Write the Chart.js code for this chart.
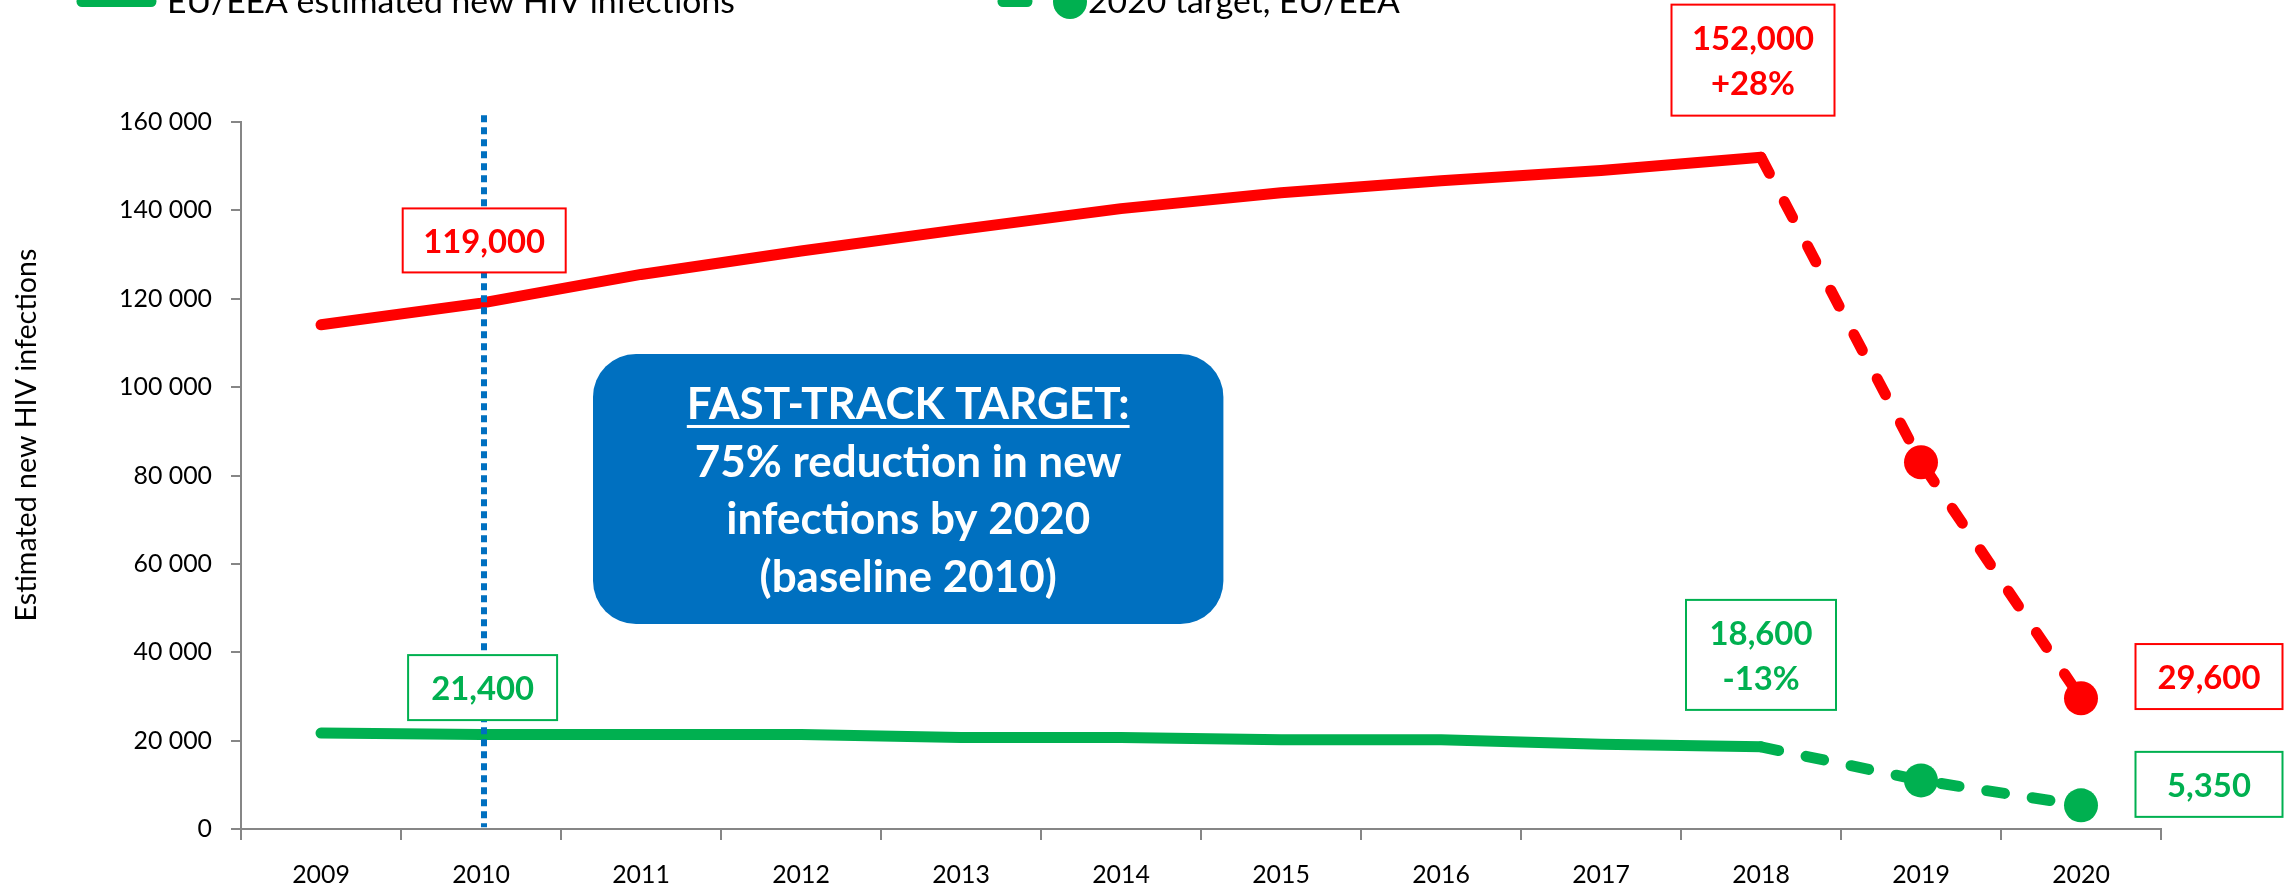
<!DOCTYPE html>
<html>
<head>
<meta charset="utf-8">
<script src="https://cdn.jsdelivr.net/npm/chart.js@4/dist/chart.umd.min.js"></script>
<style>
  html, body { margin: 0; padding: 0; background: #fff; }
  canvas { display: block; }
</style>
</head>
<body>
<canvas id="hivChart" width="2293" height="889"></canvas>
<script>
// data
var years = ['2009', '2010', '2011', '2012', '2013', '2014', '2015', '2016', '2017', '2018', '2019', '2020'];
var regionEstimated = [114100, 119000, 125500, 130800, 135700, 140400, 144000, 146700, 149000, 152000, null, null];
var regionTarget = [null, null, null, null, null, null, null, null, null, 152000, 83000, 29600];
var euEstimated = [21700, 21400, 21400, 21400, 20700, 20700, 20200, 20200, 19200, 18600, null, null];
var euTarget = [null, null, null, null, null, null, null, null, null, 18600, 11000, 5350];
var legendLabels = ['EU/EEA estimated new HIV infections', '2020 target, EU/EEA'];
var axisTitle = 'Estimated new HIV infections';
var boxLines = ['FAST-TRACK TARGET:', '75% reduction in new', 'infections by 2020', '(baseline 2010)'];

var RED = '#FF0000', GREEN = '#00B050', BLUE = '#0070C0', AXIS = '#868686';
var FONT = 'Lato';

function fitSize(text, width, weight) {
    var c = document.createElement('canvas').getContext('2d');
    c.font = weight + ' 100px ' + FONT;
    return 100 * width / c.measureText(text).width;
}

var tickSize = fitSize('160 000', 93, 'normal');
var legendSize = fitSize(legendLabels[0], 568, 'normal');
var titleSize = fitSize(axisTitle, 373, 'normal');
var calloutSize = fitSize('119,000', 122, 'bold');
var boxSize = fitSize(boxLines[1], 427, 'bold');

// callouts placed in data units (x = category index, y = value of box centre)
var callouts = [
    { lines: ['119,000'], color: RED, x: 1.02, y: 133200, w: 163, h: 64 },
    { lines: ['21,400'], color: GREEN, x: 1.01, y: 32000, w: 149, h: 65 },
    { lines: ['152,000', '+28%'], color: RED, x: 8.95, y: 174000, w: 163, h: 111 },
    { lines: ['18,600', '-13%'], color: GREEN, x: 9.0, y: 39400, w: 150, h: 110 },
    { lines: ['29,600'], color: RED, x: 11.8, y: 34500, w: 147, h: 65 },
    { lines: ['5,350'], color: GREEN, x: 11.8, y: 10100, w: 147, h: 65 }
];

var overlay = {
    id: 'overlay',
    afterDatasetsDraw: function (chart) {
        var ctx = chart.ctx, xs = chart.scales.x, ys = chart.scales.y;
        ctx.save();

        // dotted baseline marker at 2010
        var bx = xs.getPixelForValue(1) + 3;
        ctx.strokeStyle = BLUE;
        ctx.lineWidth = 6;
        ctx.setLineDash([7, 5]);
        ctx.beginPath();
        ctx.moveTo(bx, ys.getPixelForValue(161500));
        ctx.lineTo(bx, ys.getPixelForValue(400));
        ctx.stroke();
        ctx.setLineDash([]);

        // value callouts
        callouts.forEach(function (c) {
            var cx = xs.getPixelForValue(c.x), cy = ys.getPixelForValue(c.y);
            var left = cx - c.w / 2, top = cy - c.h / 2;
            ctx.fillStyle = '#fff';
            ctx.fillRect(left, top, c.w, c.h);
            ctx.strokeStyle = c.color;
            ctx.lineWidth = 2;
            ctx.strokeRect(left, top, c.w, c.h);
            ctx.fillStyle = c.color;
            ctx.font = 'bold ' + calloutSize + 'px ' + FONT;
            ctx.textAlign = 'center';
            ctx.textBaseline = 'alphabetic';
            c.lines.forEach(function (t, i) {
                ctx.fillText(t, cx, top + 45 + i * 45);
            });
        });

        // fast-track target box
        var l = xs.getPixelForValue(1.7), r = xs.getPixelForValue(5.64);
        var t = ys.getPixelForValue(107500), b = ys.getPixelForValue(46400);
        ctx.fillStyle = BLUE;
        ctx.beginPath();
        ctx.roundRect(l, t, r - l, b - t, 43);
        ctx.fill();
        ctx.fillStyle = '#fff';
        ctx.font = 'bold ' + boxSize + 'px ' + FONT;
        ctx.textAlign = 'center';
        var mid = (l + r) / 2;
        boxLines.forEach(function (line, i) {
            ctx.fillText(line, mid, t + 65 + i * 57.7);
        });
        var hw = ctx.measureText(boxLines[0]).width / 2;
        ctx.fillRect(mid - hw, t + 71, hw * 2, 3);

        ctx.restore();
    },
    afterDraw: function (chart) {
        var ctx = chart.ctx;
        ctx.save();
        // legend (top row cut by the frame edge)
        ctx.lineCap = 'round';
        ctx.strokeStyle = GREEN;
        ctx.lineWidth = 11;
        ctx.beginPath();
        ctx.moveTo(82, 1.5);
        ctx.lineTo(151, 1.5);
        ctx.stroke();
        ctx.beginPath();
        ctx.moveTo(1003, 1.5);
        ctx.lineTo(1027, 1.5);
        ctx.stroke();
        ctx.fillStyle = GREEN;
        ctx.beginPath();
        ctx.arc(1070, 2, 17, 0, Math.PI * 2);
        ctx.fill();
        ctx.fillStyle = '#000';
        ctx.font = legendSize + 'px ' + FONT;
        ctx.textAlign = 'left';
        ctx.textBaseline = 'alphabetic';
        ctx.fillText(legendLabels[0], 167, 13);
        ctx.fillText(legendLabels[1], 1088, 13);

        // y axis title
        ctx.translate(27, 435);
        ctx.rotate(-Math.PI / 2);
        ctx.textAlign = 'center';
        ctx.textBaseline = 'middle';
        ctx.font = titleSize + 'px ' + FONT;
        ctx.fillText(axisTitle, 0, 0);
        ctx.restore();
    }
};

function spaced(v) {
    return String(v).replace(/\B(?=(\d{3})+(?!\d))/g, ' ');
}

function dots(values) {
    return values.map(function (v, i) { return (v !== null && i > 9) ? 17 : 0; });
}

var ctx = document.getElementById('hivChart').getContext('2d');
var hivChart = new Chart(ctx, {
    type: 'line',
    data: {
        labels: years,
        datasets: [{
            label: 'Estimated new HIV infections',
            data: regionEstimated,
            borderColor: RED,
            borderWidth: 11,
            borderCapStyle: 'round',
            borderJoinStyle: 'round',
            pointRadius: 0
        }, {
            label: '2020 target',
            data: regionTarget,
            borderColor: RED,
            backgroundColor: RED,
            borderWidth: 11,
            borderDash: [18, 32],
            borderCapStyle: 'round',
            borderJoinStyle: 'round',
            pointRadius: dots(regionTarget),
            pointBorderWidth: 0,
            pointBackgroundColor: RED
        }, {
            label: legendLabels[0],
            data: euEstimated,
            borderColor: GREEN,
            borderWidth: 11,
            borderCapStyle: 'round',
            borderJoinStyle: 'round',
            pointRadius: 0
        }, {
            label: legendLabels[1],
            data: euTarget,
            borderColor: GREEN,
            backgroundColor: GREEN,
            borderWidth: 11,
            borderDash: [18, 28],
            borderCapStyle: 'round',
            borderJoinStyle: 'round',
            pointRadius: dots(euTarget),
            pointBorderWidth: 0,
            pointBackgroundColor: GREEN
        }]
    },
    options: {
        responsive: false,
        animation: false,
        clip: false,
        layout: { padding: { top: 122, right: 132, left: 0, bottom: 0 } },
        plugins: {
            legend: { display: false },
            tooltip: { enabled: false }
        },
        scales: {
            x: {
                offset: true,
                grid: { offset: true, drawOnChartArea: false, tickLength: 11, color: AXIS, lineWidth: 2 },
                border: { color: AXIS, width: 2 },
                ticks: { color: '#000', font: { family: FONT, size: tickSize }, padding: 20, maxRotation: 0, autoSkip: false },
                afterFit: function (s) { s.height = 60; }
            },
            y: {
                min: 0,
                max: 160000,
                grid: { drawOnChartArea: false, tickLength: 10, color: AXIS, lineWidth: 2 },
                border: { color: AXIS, width: 2 },
                ticks: {
                    stepSize: 20000,
                    color: '#000',
                    font: { family: FONT, size: tickSize },
                    padding: 19,
                    callback: function (v) { return spaced(v); }
                },
                afterFit: function (s) { s.width = 241; }
            }
        }
    },
    plugins: [overlay]
});
</script>
</body>
</html>
